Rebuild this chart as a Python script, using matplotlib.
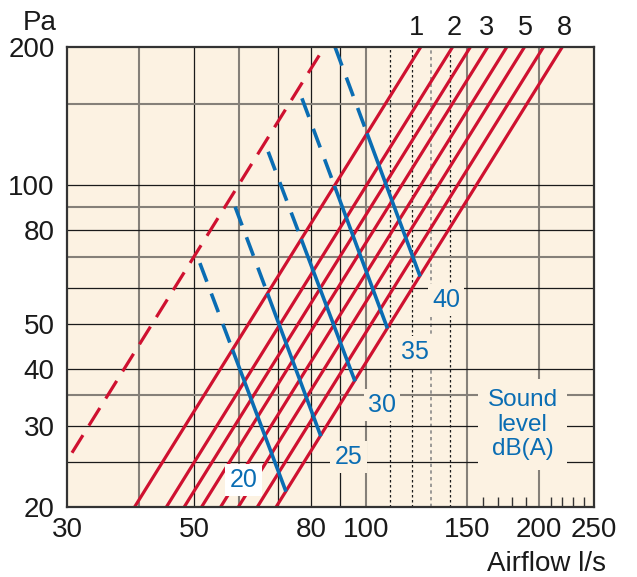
import numpy as np
import matplotlib.pyplot as plt
import matplotlib.transforms as mtransforms

plt.rcParams['font.family'] = ['Liberation Sans', 'DejaVu Sans']

# 风机曲线: 200 Pa 时的风量 (l/s), p ~ q^2
fan_q200 = [124.5, 141.5, 152.0, 163.0, 176.0, 189.0, 204.0, 220.0]
dash_q200 = 84.5
top_labels = ['1', '2', '3', '5', '8']
top_label_q = [122.5, 142.5, 162.5, 189.5, 222.0]

# 噪声线 dB(A): 起点(虚线) 和 终点
sound_levels = ['20', '25', '30', '35', '40']
sound_start_q = [51.2, 59.0, 67.4, 77.2, 88.2]
sound_start_p = [67.8, 89.9, 118.4, 154.7, 200.0]
sound_end_q = [72.4, 83.3, 95.6, 108.9, 124.2]
sound_end_p = [21.6, 28.5, 37.5, 48.9, 63.4]
sound_label_q = [61.0, 93.1, 106.5, 121.7, 137.8]
sound_label_p = [22.9, 25.7, 33.3, 43.5, 56.4]

xticks = [30, 50, 80, 100, 150, 200, 250]
yticks = [20, 30, 40, 50, 80, 100, 200]
vgrid_black = [50, 70, 80, 90]
vgrid_gray = [40, 60, 100, 150, 200]
vgrid_dotted = [110, 120, 140]
vgrid_dotted_light = [130]
hgrid_black = [25, 30, 40, 50, 60, 80, 100]
hgrid_gray = [35, 70, 90, 150]
minor_x = [160, 170, 180, 190, 210, 220, 230, 240]

RED = '#cf1130'
BLUE = '#0a6db3'
BG = '#fcf2e2'
GRAY = '#858079'

fig = plt.figure(figsize=(6.37, 5.77), dpi=100)
ax = fig.add_axes([0.1052, 0.1213, 0.8273, 0.7972])
ax.set_facecolor(BG)
ax.set_xscale('log')
ax.set_yscale('log')
ax.set_xlim(30, 250)
ax.set_ylim(20, 200)

# 网格
for v in vgrid_black:
    ax.axvline(v, color='#1a1a1a', lw=0.9, zorder=1)
for v in vgrid_gray:
    ax.axvline(v, color=GRAY, lw=1.5, zorder=1)
for v in vgrid_dotted:
    ax.axvline(v, color='#1a1a1a', lw=0.9, ls=(0, (2, 2)), zorder=1)
for v in vgrid_dotted_light:
    ax.axvline(v, color='#8a8a8a', lw=1.2, ls=(0, (2, 2)), zorder=1)
for h in hgrid_black:
    ax.axhline(h, color='#1a1a1a', lw=0.9, zorder=1)
for h in hgrid_gray:
    ax.axhline(h, color=GRAY, lw=1.5, zorder=1)

# 红线
p_rng = np.array([20.0, 200.0])
for q2 in fan_q200:
    ax.plot(q2 * np.sqrt(p_rng / 200), p_rng, color=RED, lw=2.3, zorder=3,
            solid_capstyle='butt')
ax.plot(dash_q200 * np.sqrt(p_rng / 200), p_rng, color=RED, lw=2.3, zorder=3,
        ls=(0, (6.5, 3.5)), dash_capstyle='butt')

# 蓝线, 与第一条红线交点处由虚线变实线
lq1 = np.log10(fan_q200[0])
for i in range(len(sound_levels)):
    x0, y0 = np.log10(sound_start_q[i]), np.log10(sound_start_p[i])
    x1, y1 = np.log10(sound_end_q[i]), np.log10(sound_end_p[i])
    m = (y1 - y0) / (x1 - x0)
    # y0 + m(x - x0) = log200 + 2(x - lq1)
    xk = (np.log10(200) - 2 * lq1 - y0 + m * x0) / (m - 2)
    yk = y0 + m * (xk - x0)
    ax.plot([10 ** x0, 10 ** xk], [10 ** y0, 10 ** yk], color=BLUE, lw=2.6,
            ls=(0, (5.5, 3.5)), zorder=4, dash_capstyle='butt')
    ax.plot([10 ** xk, 10 ** x1], [10 ** yk, 10 ** y1], color=BLUE, lw=2.6,
            zorder=4, solid_capstyle='butt')
    fc = 'white' if i == 0 else BG
    ax.text(sound_label_q[i], sound_label_p[i], sound_levels[i], color=BLUE,
            fontsize=18, ha='center', va='center', zorder=5,
            bbox=dict(facecolor=fc, edgecolor='none', pad=3))

ax.text(187.6, 30.2, 'Sound\nlevel\ndB(A)', color=BLUE, fontsize=17.5,
        ha='center', va='center', linespacing=1.15, zorder=5,
        bbox=dict(facecolor=BG, edgecolor='none', pad=7))

# 顶部编号
trans = mtransforms.blended_transform_factory(ax.transData, ax.transAxes)
for lab, q in zip(top_labels, top_label_q):
    ax.text(q, 1.042, lab, transform=trans, ha='center', va='center',
            fontsize=19.5, color='#1a1a1a')

ax.set_xticks(xticks)
ax.set_xticklabels([str(t) for t in xticks])
ax.set_yticks(yticks)
ax.set_yticklabels([str(t) for t in yticks])
ax.set_xticks(minor_x, minor=True)
ax.set_xticklabels([], minor=True)
ax.set_yticks([], minor=True)
ax.tick_params(axis='both', which='major', length=0, labelsize=20,
               colors='#1a1a1a')
ax.tick_params(axis='x', which='major', pad=7)
ax.tick_params(axis='y', which='major', pad=9)
ax.tick_params(axis='x', which='minor', direction='in', length=7, width=1,
               color='#333333')

for s in ax.spines.values():
    s.set_color('#333333')
    s.set_linewidth(1.6)
    s.set_zorder(6)

fig.text(40 / 637, 1 - 23 / 577, 'Pa', fontsize=20, ha='center', va='center',
         color='#1a1a1a')
fig.text(606 / 637, 1 - 564 / 577, 'Airflow l/s', fontsize=20, ha='right',
         va='center', color='#1a1a1a')

fig.savefig('out.png', dpi=100)
